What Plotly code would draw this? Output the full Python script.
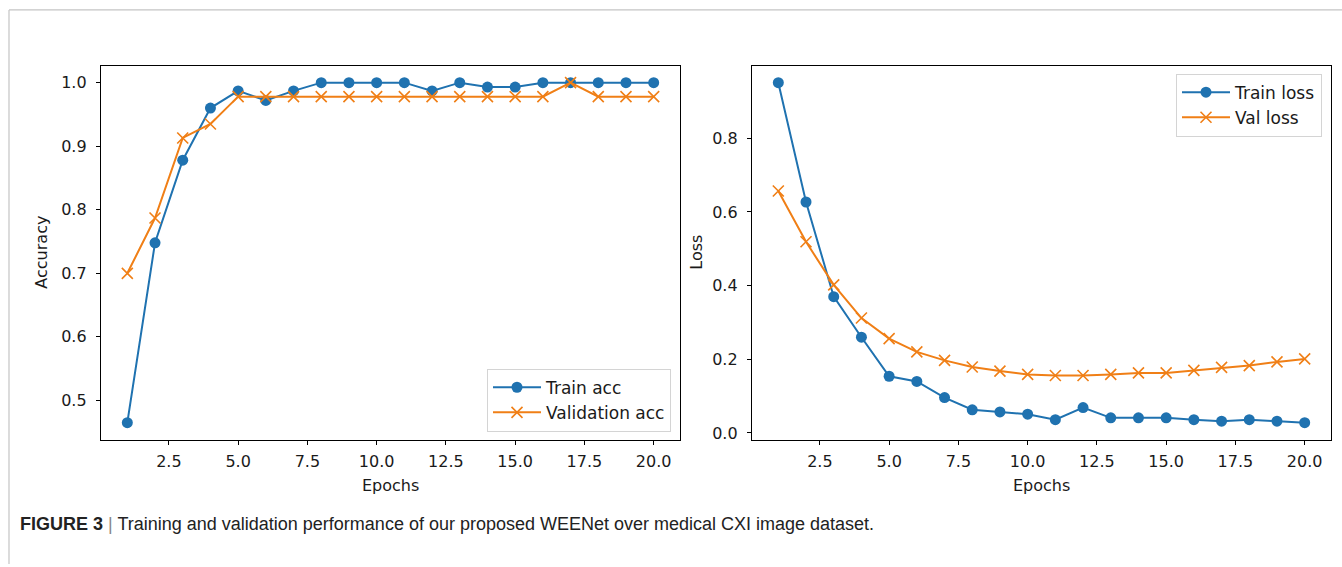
import plotly.graph_objects as go

epochs = list(range(1, 21))
train_acc = [0.465, 0.748, 0.878, 0.960, 0.987, 0.972, 0.987, 1.0, 1.0, 1.0,
             1.0, 0.987, 1.0, 0.993, 0.993, 1.0, 1.0, 1.0, 1.0, 1.0]
val_acc = [0.700, 0.787, 0.913, 0.935, 0.978, 0.978, 0.978, 0.978, 0.978, 0.978,
           0.978, 0.978, 0.978, 0.978, 0.978, 0.978, 1.0, 0.978, 0.978, 0.978]
train_loss = [0.951, 0.627, 0.370, 0.260, 0.154, 0.140, 0.096, 0.063, 0.057, 0.051,
              0.036, 0.069, 0.041, 0.041, 0.041, 0.036, 0.032, 0.036, 0.032, 0.028]
val_loss = [0.657, 0.519, 0.402, 0.312, 0.256, 0.220, 0.197, 0.179, 0.168, 0.159,
            0.156, 0.156, 0.159, 0.163, 0.163, 0.170, 0.178, 0.183, 0.193, 0.201]

x_ticks = [2.5, 5.0, 7.5, 10.0, 12.5, 15.0, 17.5, 20.0]
x_tick_text = ["2.5", "5.0", "7.5", "10.0", "12.5", "15.0", "17.5", "20.0"]
acc_ticks = [0.5, 0.6, 0.7, 0.8, 0.9, 1.0]
acc_tick_text = ["0.5", "0.6", "0.7", "0.8", "0.9", "1.0"]
loss_ticks = [0.0, 0.2, 0.4, 0.6, 0.8]
loss_tick_text = ["0.0", "0.2", "0.4", "0.6", "0.8"]

BLUE = "#1f72b0"
ORANGE = "#f07f16"
W, H = 1342, 567
FONT = "DejaVu Sans"
TXT = "#1a1a1a"

fig = go.Figure()

def add_pair(xa, ya, y1, y2, n1, n2, leg):
    fig.add_trace(go.Scatter(
        x=epochs, y=y1, name=n1, mode="lines+markers", xaxis=xa, yaxis=ya,
        line=dict(color=BLUE, width=2),
        marker=dict(symbol="circle", size=11, color=BLUE),
        legend=leg))
    fig.add_trace(go.Scatter(
        x=epochs, y=y2, name=n2, mode="lines+markers", xaxis=xa, yaxis=ya,
        line=dict(color=ORANGE, width=2),
        marker=dict(symbol="x-thin", size=11, color=ORANGE,
                    line=dict(color=ORANGE, width=1.6)),
        legend=leg))

add_pair("x", "y", train_acc, val_acc, "Train acc", "Validation acc", "legend")
add_pair("x2", "y2", train_loss, val_loss, "Train loss", "Val loss", "legend2")

def px_x(p):
    return p / W

def px_y(p):
    return 1 - p / H

axis_common = dict(
    showline=True, linecolor="black", linewidth=1.3, mirror=True,
    ticks="outside", ticklen=4, tickwidth=1.2, tickcolor="black",
    showgrid=False, zeroline=False,
    tickfont=dict(family=FONT, size=16, color=TXT),
)

def pad_range(vals):
    span = max(vals) - min(vals)
    return [min(vals) - 0.05 * span, max(vals) + 0.05 * span]

acc_all = train_acc + val_acc
loss_all = train_loss + val_loss

legend_common = dict(
    bgcolor="rgba(255,255,255,0.9)", bordercolor="#d4d4d4", borderwidth=1,
    font=dict(family=FONT, size=17, color=TXT),
    tracegroupgap=0, itemwidth=48,
)

fig.update_layout(
    width=W, height=H,
    margin=dict(l=0, r=0, t=0, b=0),
    paper_bgcolor="white", plot_bgcolor="white",
    xaxis=dict(domain=[px_x(101), px_x(680)], anchor="y",
               range=pad_range(epochs), tickvals=x_ticks, ticktext=x_tick_text,
               ticklabelstandoff=3, **axis_common),
    yaxis=dict(domain=[px_y(442), px_y(66)], anchor="x",
               range=pad_range(acc_all), tickvals=acc_ticks, ticktext=acc_tick_text,
               ticklabelstandoff=6, **axis_common),
    xaxis2=dict(domain=[px_x(752), px_x(1331)], anchor="y2",
                range=pad_range(epochs), tickvals=x_ticks, ticktext=x_tick_text,
                ticklabelstandoff=3, **axis_common),
    yaxis2=dict(domain=[px_y(442), px_y(66)], anchor="x2",
                range=pad_range(loss_all), tickvals=loss_ticks, ticktext=loss_tick_text,
                ticklabelstandoff=6, **axis_common),
    legend=dict(x=px_x(671), y=px_y(434), xanchor="right", yanchor="bottom",
                **legend_common),
    legend2=dict(x=px_x(1322), y=px_y(74), xanchor="right", yanchor="top",
                 **legend_common),
    showlegend=True,
)

ann_font = dict(family=FONT, size=16, color=TXT)
annotations = [
    dict(text="Epochs", x=px_x(390.5), y=px_y(488), xref="paper", yref="paper",
         showarrow=False, font=ann_font, xanchor="center", yanchor="middle"),
    dict(text="Epochs", x=px_x(1041.5), y=px_y(488), xref="paper", yref="paper",
         showarrow=False, font=ann_font, xanchor="center", yanchor="middle"),
    dict(text="Accuracy", x=px_x(42), y=px_y(254), xref="paper", yref="paper",
         showarrow=False, font=ann_font, textangle=-90, xanchor="center", yanchor="middle"),
    dict(text="Loss", x=px_x(697), y=px_y(254), xref="paper", yref="paper",
         showarrow=False, font=ann_font, textangle=-90, xanchor="center", yanchor="middle"),
    dict(text="<b>FIGURE 3</b> <span style='color:#888'>|</span> Training and validation performance of our proposed WEENet over medical CXI image dataset.",
         x=px_x(18), y=px_y(527), xref="paper", yref="paper", showarrow=False,
         font=dict(family="Liberation Sans", size=18, color="#222222"),
         xanchor="left", yanchor="middle"),
]
fig.update_layout(annotations=annotations)

fig.update_layout(shapes=[
    dict(type="line", xref="paper", yref="paper", x0=px_x(9), x1=1, y0=px_y(10), y1=px_y(10),
         line=dict(color="#c4c4c4", width=1.2)),
    dict(type="line", xref="paper", yref="paper", x0=px_x(9), x1=px_x(9), y0=px_y(10), y1=0,
         line=dict(color="#c4c4c4", width=1.2)),
])

fig.write_html("out.html")
